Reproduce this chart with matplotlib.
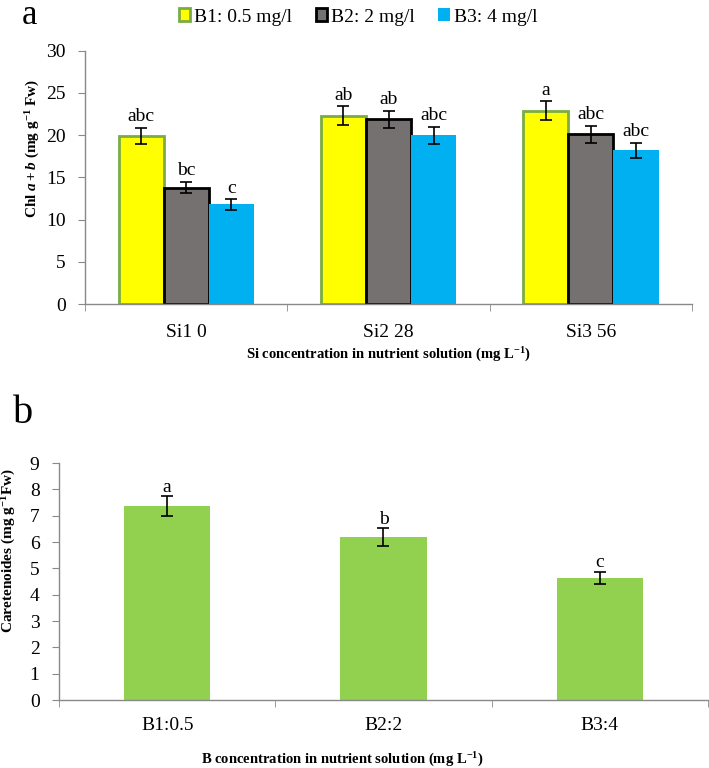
import numpy as np
import matplotlib
matplotlib.use('Agg')
import matplotlib.pyplot as plt

plt.rcParams['font.family'] = ['Liberation Serif', 'DejaVu Serif']
plt.rcParams['mathtext.fontset'] = 'custom'
plt.rcParams['mathtext.rm'] = 'Liberation Serif:bold'
plt.rcParams['mathtext.it'] = 'Liberation Serif:bold:italic'
plt.rcParams['mathtext.bf'] = 'Liberation Serif:bold'

# panel a data
si_levels = ['Si1 0', 'Si2 28', 'Si3 56']
b_series = ['B1: 0.5 mg/l', 'B2: 2 mg/l', 'B3: 4 mg/l']
chl_b1 = [19.9, 22.3, 22.9]
chl_b2 = [13.8, 21.9, 20.1]
chl_b3 = [11.8, 20.0, 18.2]
chl_err_b1 = [1.0, 1.1, 1.1]
chl_err_b2 = [0.7, 1.0, 1.0]
chl_err_b3 = [0.6, 1.0, 0.9]
chl_let_b1 = ['abc', 'ab', 'a']
chl_let_b2 = ['bc', 'ab', 'abc']
chl_let_b3 = ['c', 'abc', 'abc']

# panel b data
b_levels = ['B1:0.5', 'B2:2', 'B3:4']
car_vals = [7.37, 6.19, 4.64]
car_err = [0.37, 0.33, 0.23]
car_let = ['a', 'b', 'c']

fig = plt.figure(figsize=(7.09, 7.68), dpi=100)

axis_col = '#898989'


def style_axes(ax, n, ymax, ystep):
    for s in ['top', 'right']:
        ax.spines[s].set_visible(False)
    for s in ['left', 'bottom']:
        ax.spines[s].set_color(axis_col)
        ax.spines[s].set_linewidth(1.0)
    ax.set_xlim(-0.5, n - 0.5)
    ax.set_ylim(0, ymax)
    ax.set_yticks(np.arange(0, ymax + 0.01, ystep))
    ax.set_xticks(range(n))
    ax.set_xticks(np.arange(-0.5, n, 1.0), minor=True)
    ax.tick_params(axis='x', which='major', length=0, labelsize=14, pad=14)
    ax.tick_params(axis='x', which='minor', length=5, color=axis_col, direction='out')
    ax.tick_params(axis='y', length=5, color=axis_col, labelsize=14, pad=9)


# ---- panel a
ax1 = fig.add_axes([0.12, 0.6038, 0.856, 0.3304])
x = np.arange(len(si_levels))
w = 0.223
vals = [chl_b1, chl_b2, chl_b3]
errs = [chl_err_b1, chl_err_b2, chl_err_b3]
lets = [chl_let_b1, chl_let_b2, chl_let_b3]
faces = ['#FFFF00', '#767171', '#00B0F0']
edges = ['#7AAB45', '#000000', '#00B0F0']
handles = []
for i in range(3):
    pos = x + (i - 1) * w
    bars = ax1.bar(pos, vals[i], w, color=faces[i], edgecolor=edges[i],
                   linewidth=2.0 if i < 2 else 0, label=b_series[i], zorder=2)
    handles.append(bars)
    ax1.errorbar(pos, vals[i], yerr=errs[i], fmt='none', ecolor='black',
                 elinewidth=1.2, capsize=4, capthick=1.2, zorder=3)
    for p, v, e, t in zip(pos, vals[i], errs[i], lets[i]):
        ax1.text(p, v + e + 0.3, t, ha='center', va='bottom', fontsize=14)
style_axes(ax1, 3, 30, 5)
ax1.set_xticklabels(si_levels)

fig.text(33 / 709, 1 - 148 / 768, r'Chl $\mathit{a+b}$ (mg g$^{-1}$ Fw)',
         rotation=90, ha='center', va='center', fontsize=11, fontweight='bold')
fig.text(389 / 709, 1 - 355 / 768,
         r'Si concentration in nutrient solution (mg L$^{-1}$)',
         ha='center', va='center', fontsize=10.5, fontweight='bold')
fig.text(30 / 709, 1 - 24 / 768, 'a', ha='center', va='baseline', fontsize=25)

fig.legend(handles=handles, labels=b_series, loc='center', bbox_to_anchor=(0.505, 1 - 17 / 768),
           ncol=3, frameon=False, fontsize=14, handlelength=0.6, handleheight=0.6,
           handletextpad=0.2, columnspacing=1.2, borderaxespad=0)

# ---- panel b
ax2 = fig.add_axes([0.0832, 0.0885, 0.9154, 0.3086])
xb = np.arange(len(b_levels))
ax2.bar(xb, car_vals, 0.40, color='#92D050', zorder=2)
ax2.errorbar(xb, car_vals, yerr=car_err, fmt='none', ecolor='black',
             elinewidth=1.2, capsize=4, capthick=1.2, zorder=3)
for p, v, e, t in zip(xb, car_vals, car_err, car_let):
    ax2.text(p, v + e + 0.02, t, ha='center', va='bottom', fontsize=14)
style_axes(ax2, 3, 9, 1)
ax2.set_xticklabels(b_levels)
ax2.tick_params(axis='x', which='major', pad=12)

fig.text(9 / 709, 1 - 551 / 768, r'Caretenoides (mg g$^{-1}$Fw)',
         rotation=90, ha='center', va='center', fontsize=11, fontweight='bold')
fig.text(342 / 709, 1 - 760 / 768,
         r'B concentration in nutrient solution (mg L$^{-1}$)',
         ha='center', va='center', fontsize=10.5, fontweight='bold')
fig.text(23 / 709, 1 - 423 / 768, 'b', ha='center', va='baseline', fontsize=29)

fig.savefig('out.png', dpi=100)
